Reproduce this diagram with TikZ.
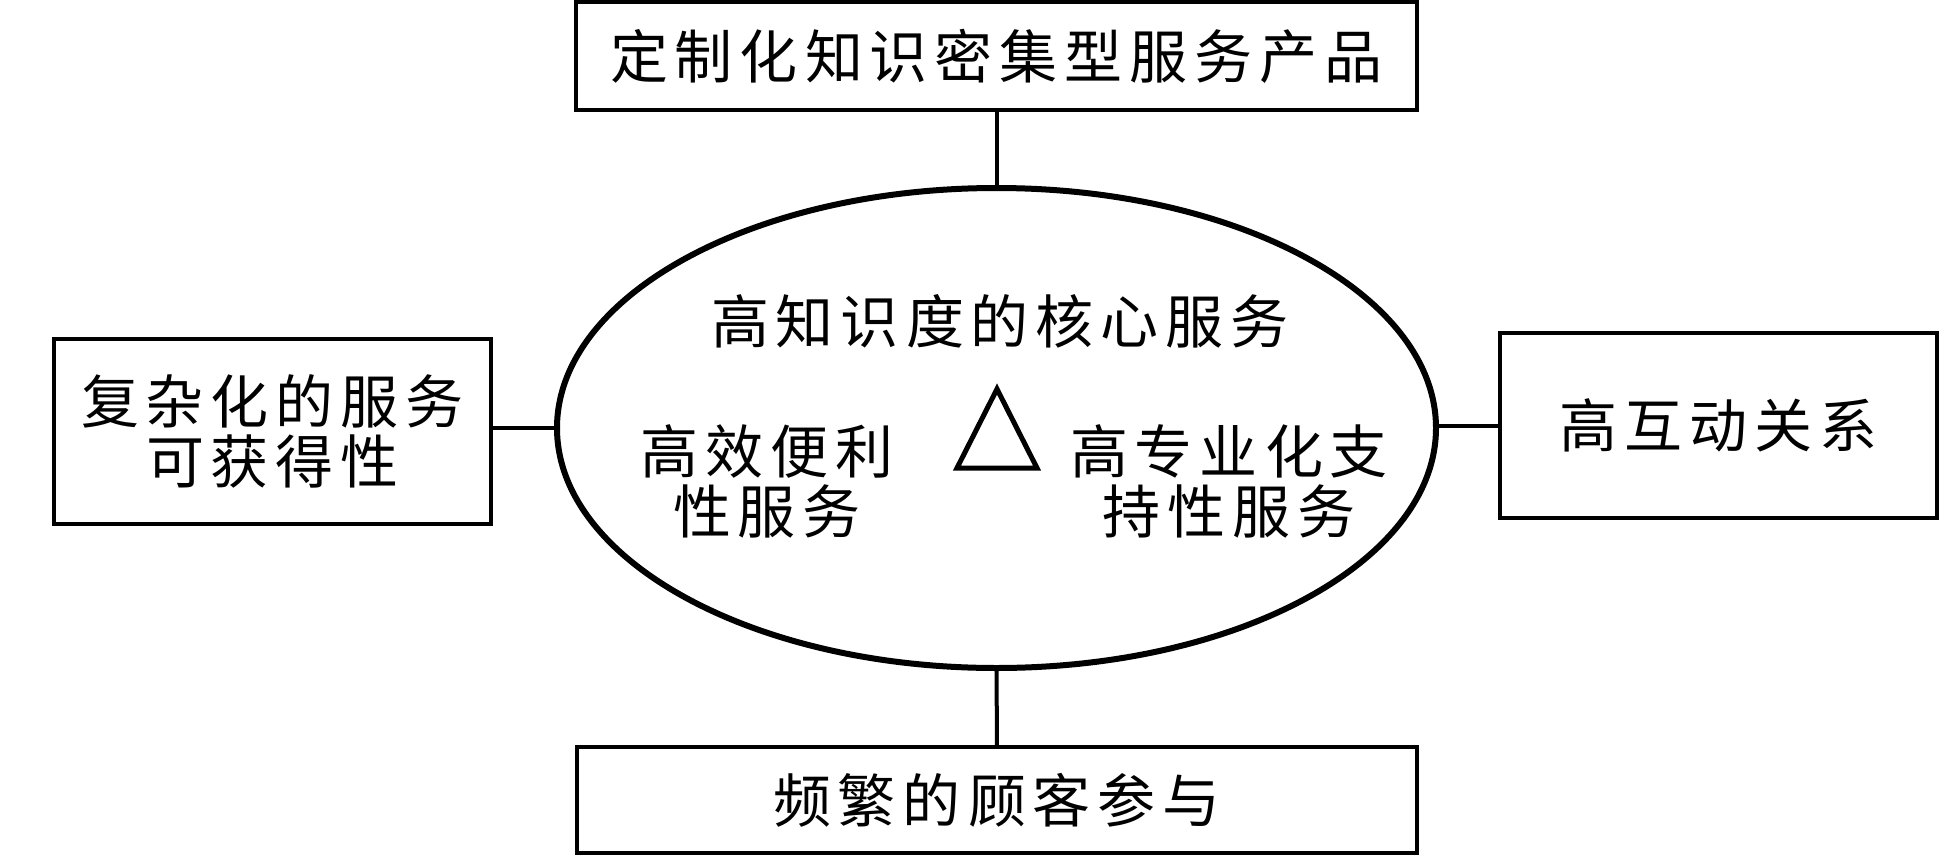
\documentclass[tikz,border=0pt]{standalone}
\usepackage{fontspec}
\newfontfamily\cjkfont{Noto Sans CJK SC}
\usetikzlibrary{shapes.geometric}
\def\cjkkern{7pt}
\def\spcjk#1{\spcjkA#1\relax}
\def\spcjkA#1{#1\spcjkB}
\def\spcjkB#1{\ifx#1\relax\else\kern\cjkkern #1\expandafter\spcjkB\fi}
\begin{document}
\begin{tikzpicture}[x=1pt,y=-1pt,
  txt/.style={inner sep=0pt, outer sep=0pt, align=center,
    font=\cjkfont\fontsize{58}{60}\selectfont},
  box/.style={txt, draw, line width=4.5pt},
  link/.style={line width=4pt}]
\path[fill=white] (0,0) rectangle (1939,857);
\useasboundingbox (0,0) rectangle (1939,857);
% outer boxes
\node[box, minimum width=841pt, minimum height=108pt] (topbox) at (996.5,56)
  {\spcjk{定制化知识密集型服务产品}};
\node[box, minimum width=437pt, minimum height=185pt] (leftbox) at (272.5,431.5)
  {\spcjk{复杂化的服务}\\\spcjk{可获得性}};
\node[box, minimum width=437pt, minimum height=185pt] (rightbox) at (1718.5,425.5)
  {\spcjk{高互动关系}};
\node[box, minimum width=840pt, minimum height=106pt] (botbox) at (997,800)
  {\spcjk{频繁的顾客参与}};
% central ellipse
\node[draw, ellipse, line width=6pt, inner sep=0pt, outer sep=0pt,
  minimum width=879pt, minimum height=480pt] (core) at (996.5,428) {};
% texts inside ellipse
\node[txt] (coretxt) at (1000,321) {\spcjk{高知识度的核心服务}};
\node[txt] (lefttxt) at (767,481) {\spcjk{高效便利}\\\spcjk{性服务}};
\node[txt] (righttxt) at (1229,481) {\spcjk{高专业化支}\\\spcjk{持性服务}};
% triangle
\draw[line width=5pt, line join=miter] (997,389) -- (1037,468) -- (957,468) -- cycle;
% connectors
\draw[link] (topbox.south) -- (core.north);
\draw[link] (core.south) -- (botbox.north);
\draw[link] (core.west -| leftbox.east) -- (core.west);
\draw[link] (rightbox.west -| core.east) -- (rightbox.west);
\end{tikzpicture}
\end{document}
